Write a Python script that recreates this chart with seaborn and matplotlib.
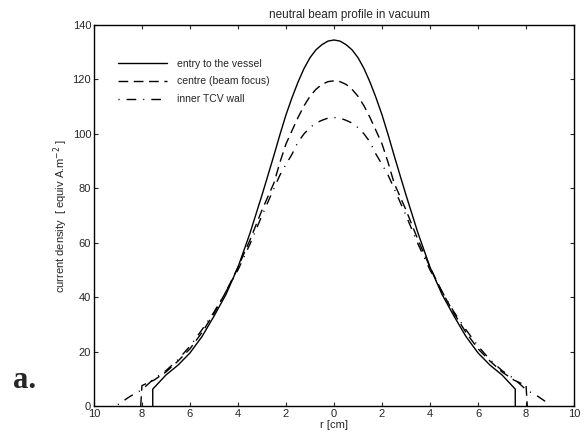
import numpy as np
import pandas as pd
import matplotlib
matplotlib.use("Agg")
import matplotlib.pyplot as plt
import seaborn as sns

sns.set_style("ticks")
plt.rcParams['font.family'] = ['Liberation Sans', 'DejaVu Sans']

# half-profile radii (cm) and values
r_half = [0, 0.25, 0.5, 0.75, 1, 1.25, 1.5, 1.75, 2, 2.25, 2.5, 2.75, 3,
          3.5, 4, 4.5, 5, 5.5, 6, 6.5, 7]
entry_half = [134.5, 134.1, 132.8, 130.9, 128, 124, 119, 113.3, 107, 99.8,
              92.2, 84.8, 77.5, 63.5, 51, 41, 33, 25.5, 19.5, 15, 11.4]
centre_half = [119.5, 119.2, 118.2, 116.4, 113.8, 110.3, 106, 101.2, 96.3,
               89.6, 82, 77, 72, 61, 51, 42, 34, 27, 21, 16.5, 12.5]
wall_half = [106, 105.8, 105, 104, 102.3, 100, 97, 92.5, 88.8, 84.9, 80, 75,
             70, 59.5, 50, 42, 34.5, 28, 22, 17, 13]

# outer tails (r, value) for each profile
entry_tail_r = [7.55, 7.55]
entry_tail_v = [6.2, 0]
centre_tail_r = [7.5, 8.0, 8.05]
centre_tail_v = [9.5, 7.5, 0]
wall_tail_r = [7.5, 8.0, 8.5, 9.0]
wall_tail_v = [10, 6, 3.5, 0.5]

labels = ["entry to the vessel", "centre (beam focus)", "inner TCV wall"]
xtick_vals = [-10, -8, -6, -4, -2, 0, 2, 4, 6, 8, 10]
xtick_labels = ["10", "8", "6", "4", "2", "0", "2", "4", "6", "8", "10"]
ytick_vals = [0, 20, 40, 60, 80, 100, 120, 140]


def full_profile(rh, vh, rt, vt):
    r_pos = list(rh) + list(rt)
    v_pos = list(vh) + list(vt)
    r = [-x for x in r_pos[::-1]] + r_pos[1:]
    v = v_pos[::-1] + v_pos[1:]
    return r, v


profiles = [
    full_profile(r_half, entry_half, entry_tail_r, entry_tail_v),
    full_profile(r_half, centre_half, centre_tail_r, centre_tail_v),
    full_profile(r_half, wall_half, wall_tail_r, wall_tail_v),
]
styles = ["-", (0, (7, 4)), (0, (0.8, 5, 7, 5))]

fig = plt.figure(figsize=(5.87, 4.43), dpi=100)
ax = fig.add_axes([0.160, 0.0835, 0.818, 0.860])

for (r, v), lab, ls in zip(profiles, labels, styles):
    df = pd.DataFrame({"r": r, "j": v})
    sns.lineplot(data=df, x="r", y="j", ax=ax, color="black", linewidth=1.0,
                 linestyle=ls, sort=False, estimator=None, label=lab)

ax.set_xlim(-10, 10)
ax.set_ylim(0, 140)
ax.set_xticks(xtick_vals)
ax.set_xticklabels(xtick_labels)
ax.set_yticks(ytick_vals)
ax.tick_params(direction="in", length=3, width=0.8, labelsize=8,
               top=True, right=True, pad=2)
for s in ax.spines.values():
    s.set_linewidth(1.0)
    s.set_color("black")

ax.set_title("neutral beam profile in vacuum", fontsize=8.5, pad=5, x=0.533)
ax.set_xlabel("r [cm]", fontsize=8, labelpad=1)
ax.set_ylabel("current density  [ equiv A.m$^{-2}$ ]", fontsize=8, labelpad=2)

leg = ax.legend(loc="upper left", bbox_to_anchor=(0.05, 0.912), frameon=False,
                fontsize=7.5, handlelength=4.7, handletextpad=1.0,
                labelspacing=0.75, borderpad=0, borderaxespad=0)

fig.text(0.022, 0.124, "a.", fontsize=22, fontweight="bold",
         family=["Liberation Serif", "DejaVu Serif"])

fig.savefig("out.png", dpi=100)
